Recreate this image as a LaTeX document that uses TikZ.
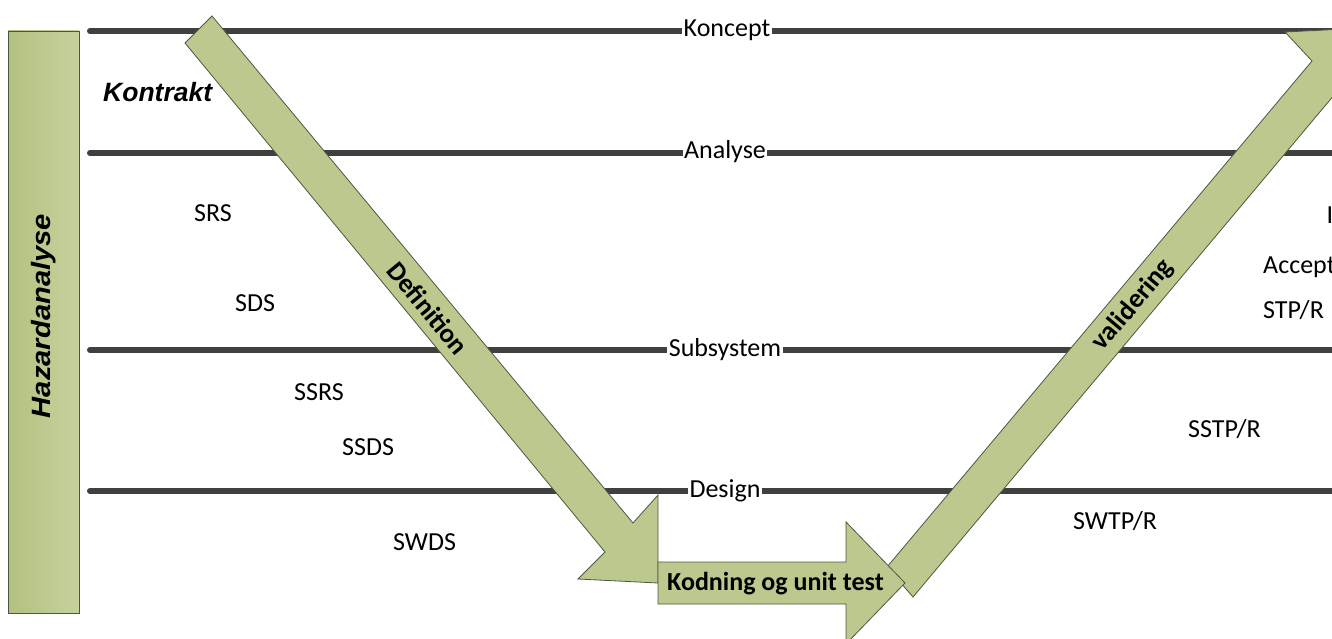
\documentclass[tikz,border=0pt]{standalone}
\usepackage{fontspec}
\setmainfont{Carlito}
\newfontfamily\hfont{Liberation Sans}
\definecolor{armfill}{RGB}{188,201,142}
\definecolor{armdark}{RGB}{178,193,128}
\definecolor{armlight}{RGB}{198,210,158}
\definecolor{lvlcol}{RGB}{64,64,64}
\definecolor{edgecol}{RGB}{78,86,66}
\begin{document}
\begin{tikzpicture}[x=1pt,y=-1pt,
  txt/.style={font=\fontsize{26}{30}\selectfont, inner sep=0pt, anchor=base west},
  lvlline/.style={line width=6pt, draw=lvlcol, line cap=round},
  lvllbl/.style={font=\fontsize{26}{30}\selectfont, fill=white, inner xsep=1.5pt, inner ysep=0pt, anchor=base},
  arm/.style={draw=edgecol, line width=0.8pt, fill=armfill, line join=miter},
  armtxt/.style={font=\bfseries\fontsize{27}{30}\selectfont, inner sep=0pt},
  hzd/.style={font=\hfont\bfseries\itshape\fontsize{26.5}{30}\selectfont, inner sep=0pt}]

\useasboundingbox (0,0) rectangle (1332,639);
\clip (0,0) rectangle (1332,639);
\fill[white] (0,0) rectangle (1332,639);

% Hazard box
\node[draw=edgecol, line width=0.8pt, left color=armdark, right color=armlight,
      minimum width=71pt, minimum height=582pt, inner sep=0pt] (hazbox) at (43.5,322) {};
\node[hzd, rotate=90] (hazlbl) at (44,316) {\scalebox{1.1}[1]{Hazardanalyse}};

% level lines
\coordinate (kS) at (90,31);  \coordinate (kE) at (1345,31);
\coordinate (aS) at (90,153); \coordinate (aE) at (1345,153);
\coordinate (sS) at (90,350); \coordinate (sE) at (1345,350);
\coordinate (dS) at (90,491); \coordinate (dE) at (1345,491);
\draw[lvlline] (kS) -- (kE);
\draw[lvlline] (aS) -- (aE);
\draw[lvlline] (sS) -- (sE);
\draw[lvlline] (dS) -- (dE);
\node[lvllbl] (koncept) at (727,37) {Koncept};
\node[lvllbl] (analyse) at (725,159) {Analyse};
\node[lvllbl] (subsys) at (725,356) {Subsystem};
\node[lvllbl] (design) at (725,497) {Design};

% arrows
\draw[arm] (185,43) -- (212,16) -- (633,523) -- (658,495) -- (658,583) -- (578,579) -- (605,552) -- cycle;
\draw[arm] (887,567) -- (1312,61) -- (1285,32) -- (1365,28) -- (1365,116) -- (1340,88) -- (913,597) -- cycle;
\draw[arm] (658,562) -- (846,562) -- (846,522) -- (905,583) -- (846,644) -- (846,604) -- (658,604) -- cycle;

\node[armtxt, rotate=-50.5] (deftxt) at (428,308) {Definition};
\node[armtxt, rotate=50] (valtxt) at (1133,305) {validering};
\node[armtxt, anchor=base west, font=\bfseries\fontsize{26}{30}\selectfont] (kodtxt) at (667,590) {Kodning og unit test};

% left texts
\node[hzd, anchor=base west] (kontrakt) at (103,102) {Kontrakt};
\node[txt] (srs) at (194,222) {SRS};
\node[txt] (sds) at (235,311) {SDS};
\node[txt] (ssrs) at (294,400) {SSRS};
\node[txt] (ssds) at (342,455) {SSDS};
\node[txt] (swds) at (393,550) {SWDS};

% right texts
\node[txt] (iword) at (1326.5,223) {Installation};
\node[txt] (accept) at (1263,273) {Accepttest};
\node[txt] (stp) at (1263,318) {STP/R};
\node[txt] (sstp) at (1188,437) {SSTP/R};
\node[txt] (swtp) at (1073,529) {SWTP/R};
\end{tikzpicture}
\end{document}
